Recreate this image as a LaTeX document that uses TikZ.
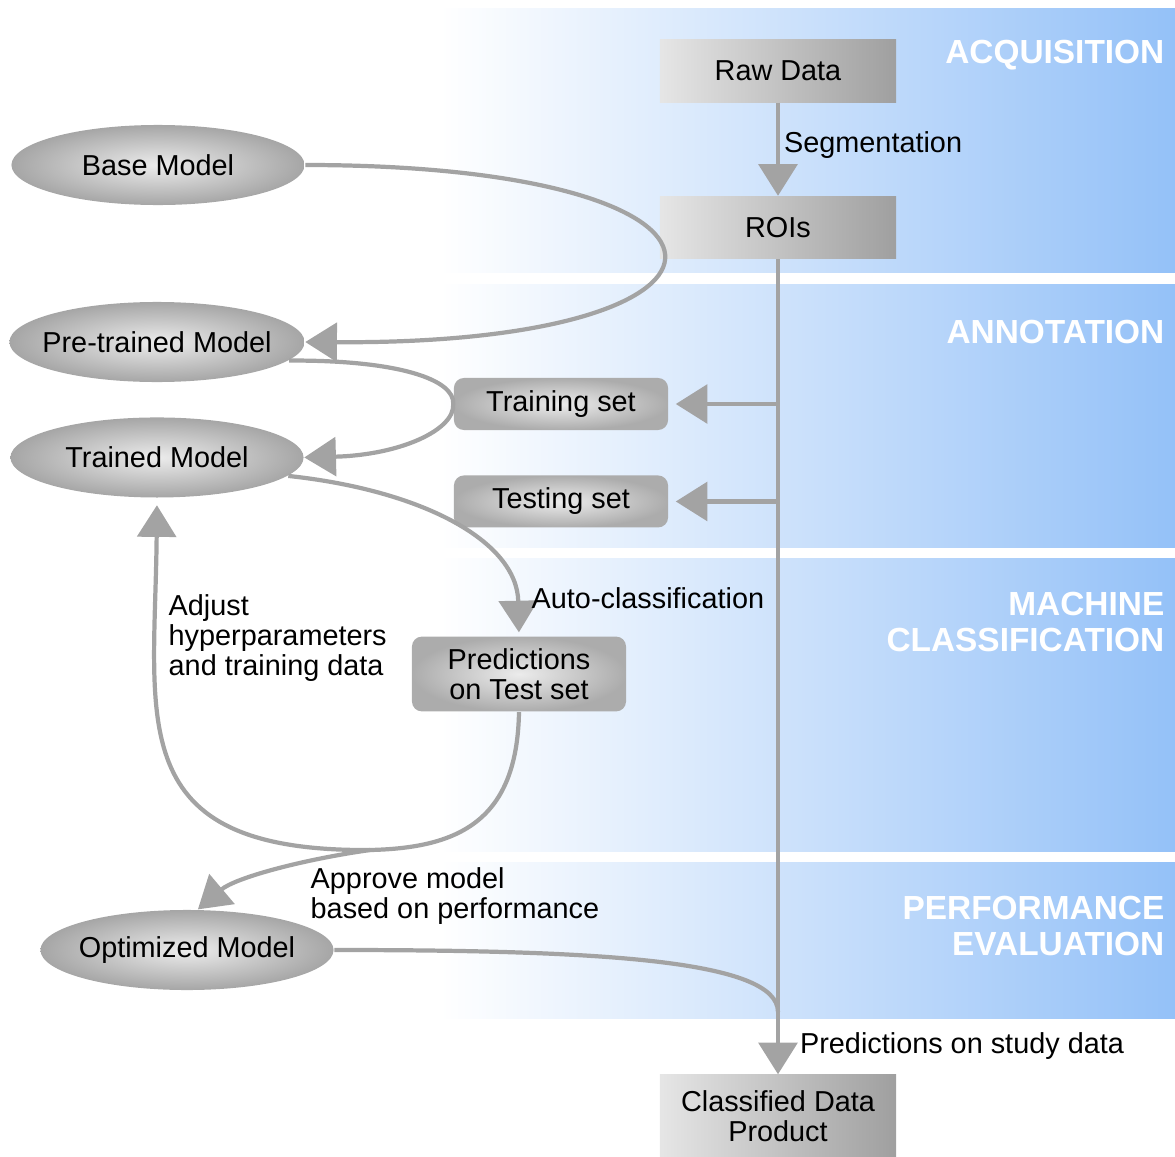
\documentclass[tikz,border=0pt]{standalone}
\usepackage{fontspec}
\setmainfont{Liberation Sans}
\usetikzlibrary{positioning}
\usetikzlibrary{arrows.meta}
\usetikzlibrary{shapes.geometric}

\definecolor{linegray}{RGB}{163,163,163}
\definecolor{bandblue}{RGB}{148,193,248}
\definecolor{bandmid}{RGB}{202,224,251}

\begin{document}
\begin{tikzpicture}[x=0.01cm, y=-0.01cm, font=\fontsize{8.2}{8.6}\selectfont,
        model/.style = {ellipse, inner color=gray!15, outer color=gray!70, minimum width=2.93cm, minimum height=0.8cm, inner xsep=-0.4cm, inner ysep=0pt},
        data/.style = {rectangle, left color=gray!20, right color=gray!75, minimum width=2.36cm, minimum height=0.62cm, align=center},
        subset/.style = {rectangle, rounded corners=0.1cm, inner color=gray!15, outer color=gray!65, minimum width=2.14cm, minimum height=0.52cm, align=center},
        conn/.style = {draw=linegray, line width=1.2pt, -{Triangle[width=11pt, length=9pt]}},
        wire/.style = {draw=linegray, line width=1.2pt},
        lbl/.style = {align=left, anchor=west, inner sep=0pt},
        band/.style = {text=white, font=\fontsize{9.5}{10}\selectfont\bfseries, align=right, anchor=east, inner sep=0pt}]
    \useasboundingbox (0,0) rectangle (1175,1157);
    \foreach \top/\bot in {8/272, 284/547, 558/851, 862/1018}
        \shade[left color=white, right color=bandblue, middle color=bandmid] (440,\top) rectangle (1175,\bot);

    \node[band] (acq) at (1165,55) {ACQUISITION};
    \node[band] (ann) at (1165,332) {ANNOTATION};
    \node[band] (mc) at (1165,622) {MACHINE\\CLASSIFICATION};
    \node[band] (pe) at (1165,926) {PERFORMANCE\\EVALUATION};

    \node[data] (raw) at (778,71) {Raw Data};
    \node[data, below=0.93cm of raw] (roi) {ROIs};
    \node[data, minimum height=0.82cm] (cls) at (778,1116) {Classified Data\\Product};
    \node[model] (base) at (158,165) {Base Model};
    \node[model, minimum width=2.95cm] (pre) at (157,342) {Pre-trained Model};
    \node[model, below=0.34cm of pre] (trained) {Trained Model};
    \node[model] (opt) at (187,950) {Optimized Model};
    \node[subset] (train) at (561,404) {Training set};
    \node[subset, below=0.44cm of train] (test) {Testing set};
    \node[subset, minimum height=0.72cm] (pred) at (519,674) {Predictions\\on Test set};

    \coordinate (tap1) at (roi.south |- train.east);
    \coordinate (tap2) at (roi.south |- test.east);
    \coordinate (fork) at (370,850);
    \coordinate (merge) at (roi.south |- 0,1012);

    \draw[conn] (raw) -- node[right=0.04cm, pos=0.45, inner sep=0pt] {Segmentation} (roi);
    \draw[conn] (roi) -- node[right=0.2cm, pos=0.965, inner sep=0pt] {Predictions on study data} (cls);
    \draw[conn, shorten >=2pt] (tap1) -- (train);
    \draw[conn, shorten >=2pt] (tap2) -- (test);
    \draw[conn] (base.east) .. controls (780,165) and (780,345) .. (pre.east);
    \draw[conn] (pre.-8) .. controls (400,360) and (455,380) .. (train.west) .. controls (455,430) and (400,455) .. (trained.east);
    \draw[conn, shorten >=1pt] (trained.-8) .. controls (420,490) and (517,540) .. (pred.north);
    \draw[wire] (pred.south) .. controls (517,820) and (460,848) .. (fork);
    \draw[conn, shorten >=2pt] (fork) .. controls (120,852) and (155,720) .. (trained.south);
    \draw[conn] (fork) .. controls (300,860) and (235,878) .. (opt.75);
    \draw[wire] (opt.east) .. controls (600,950) and (778,960) .. (merge);

    \node[lbl] (auto) at (531,598) {Auto-classification};
    \node[lbl] (adj) at (168,638) {Adjust\\hyperparameters\\and training data};
    \node[lbl] (appr) at (310,896) {Approve model\\based on performance};
\end{tikzpicture}
\end{document}
